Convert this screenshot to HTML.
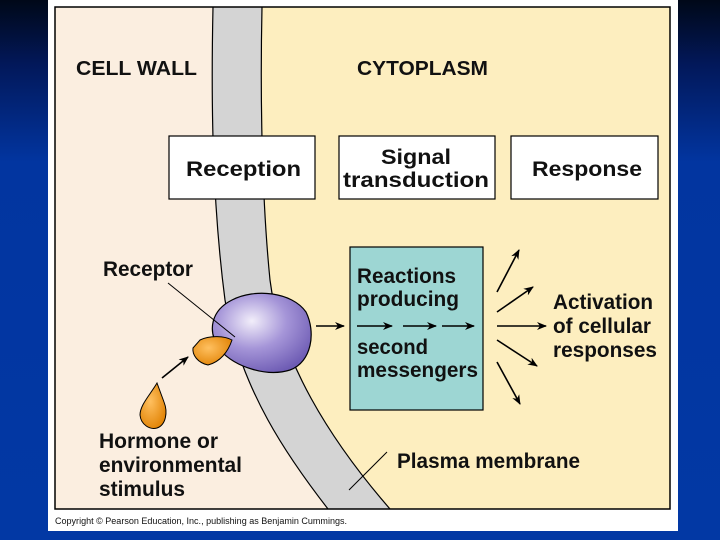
<!DOCTYPE html>
<html><head><style>
body{margin:0;width:720px;height:540px;overflow:hidden;background:linear-gradient(180deg,#000818 0%,#02185a 12%,#0235a0 30%,#0238a4 100%);}
svg{position:absolute;left:0;top:0}
text{font-family:"Liberation Sans",sans-serif;font-weight:bold;fill:#111}
</style></head><body>
<svg width="720" height="540" viewBox="0 0 720 540">
<defs>
<radialGradient id="pg" cx="0.4" cy="0.35" r="0.7">
<stop offset="0" stop-color="#f2eefa"/><stop offset="0.5" stop-color="#a595d8"/><stop offset="1" stop-color="#6e5cb4"/></radialGradient>
<radialGradient id="og" cx="0.4" cy="0.4" r="0.7">
<stop offset="0" stop-color="#ffc060"/><stop offset="1" stop-color="#e08000"/></radialGradient>
<marker id="ah" markerWidth="10" markerHeight="8" refX="9" refY="4" orient="auto" markerUnits="userSpaceOnUse"><path d="M0,0 L10,4 L0,8 L3,4 Z" fill="#000"/></marker>
</defs>
<rect x="48" y="0" width="630" height="531" fill="#fff"/>
<rect x="55" y="7" width="615" height="502" fill="#fdeebf"/>
<path d="M55,7 L213,7 C211,100 212,200 225,300 C240,390 290,460 328,509 L55,509 Z" fill="#fbeee0"/>
<path d="M213,7 C211,100 212,200 225,300 C240,390 290,460 328,509 L390,509 C330,440 280,360 270,280 C262,200 260,100 262,7 Z" fill="#d4d4d4"/>
<path d="M213,7 C211,100 212,200 225,300 C240,390 290,460 328,509" fill="none" stroke="#000" stroke-width="1.2"/>
<path d="M262,7 C260,100 262,200 270,280 C280,360 330,440 390,509" fill="none" stroke="#000" stroke-width="1.2"/>
<rect x="55" y="7" width="615" height="502" fill="none" stroke="#000" stroke-width="1.5"/>
<g font-size="20" lengthAdjust="spacingAndGlyphs">
<text x="76" y="75" textLength="121" lengthAdjust="spacingAndGlyphs">CELL WALL</text>
<text x="357" y="75" textLength="131" lengthAdjust="spacingAndGlyphs">CYTOPLASM</text>
</g>
<rect x="169" y="136" width="146" height="63" fill="#fff" stroke="#000" stroke-width="1.2"/>
<text x="186" y="176" font-size="21" textLength="115" lengthAdjust="spacingAndGlyphs">Reception</text>
<rect x="339" y="136" width="156" height="63" fill="#fff" stroke="#000" stroke-width="1.2"/>
<text x="381" y="164" font-size="21" textLength="70" lengthAdjust="spacingAndGlyphs">Signal</text>
<text x="343" y="187" font-size="21" textLength="146" lengthAdjust="spacingAndGlyphs">transduction</text>
<rect x="511" y="136" width="147" height="63" fill="#fff" stroke="#000" stroke-width="1.2"/>
<text x="532" y="176" font-size="21" textLength="110" lengthAdjust="spacingAndGlyphs">Response</text>
<rect x="350" y="247" width="133" height="163" fill="#9dd6d3" stroke="#000" stroke-width="1.2"/>
<g font-size="21">
<text x="357" y="283" textLength="99" lengthAdjust="spacingAndGlyphs">Reactions</text>
<text x="357" y="306" textLength="102" lengthAdjust="spacingAndGlyphs">producing</text>
<text x="357" y="354" textLength="71" lengthAdjust="spacingAndGlyphs">second</text>
<text x="357" y="377" textLength="121" lengthAdjust="spacingAndGlyphs">messengers</text>
<text x="553" y="309" textLength="100" lengthAdjust="spacingAndGlyphs">Activation</text>
<text x="553" y="333" textLength="98" lengthAdjust="spacingAndGlyphs">of cellular</text>
<text x="553" y="357" textLength="104" lengthAdjust="spacingAndGlyphs">responses</text>
<text x="103" y="276" textLength="90" lengthAdjust="spacingAndGlyphs">Receptor</text>
<text x="99" y="448" textLength="119" lengthAdjust="spacingAndGlyphs">Hormone or</text>
<text x="99" y="472" textLength="143" lengthAdjust="spacingAndGlyphs">environmental</text>
<text x="99" y="496" textLength="86" lengthAdjust="spacingAndGlyphs">stimulus</text>
<text x="397" y="468" textLength="183" lengthAdjust="spacingAndGlyphs">Plasma membrane</text>
</g>
<text x="55" y="524" font-size="9" style="font-weight:normal" textLength="292" lengthAdjust="spacingAndGlyphs">Copyright © Pearson Education, Inc., publishing as Benjamin Cummings.</text>
<path d="M232,300 C255,288 292,292 306,312 C316,332 312,362 290,370 C268,377 236,368 220,350 C206,330 212,310 232,300 Z" fill="url(#pg)" stroke="#000" stroke-width="1.2"/>
<path d="M200,340 C210,335 225,336 232,340 C228,352 220,362 208,365 C198,363 192,355 193,348 Z" fill="url(#og)" stroke="#000" stroke-width="1"/>
<path d="M157,383 C150,395 140,405 140,415 C141,425 150,430 157,428 C166,425 168,412 164,402 Z" fill="url(#og)" stroke="#000" stroke-width="1"/>
<line x1="168" y1="283" x2="235" y2="337" stroke="#000" stroke-width="1"/>
<line x1="387" y1="452" x2="349" y2="490" stroke="#000" stroke-width="1"/>
<g stroke="#000" stroke-width="1.6" marker-end="url(#ah)">
<line x1="162" y1="378" x2="188" y2="357"/>
<line x1="316" y1="326" x2="344" y2="326"/>
<line x1="357" y1="326" x2="392" y2="326"/>
<line x1="403" y1="326" x2="436" y2="326"/>
<line x1="442" y1="326" x2="474" y2="326"/>
<line x1="497" y1="326" x2="546" y2="326"/>
<line x1="497" y1="292" x2="519" y2="250"/>
<line x1="497" y1="312" x2="533" y2="287"/>
<line x1="497" y1="340" x2="537" y2="366"/>
<line x1="497" y1="362" x2="520" y2="404"/>
</g>
</svg>
</body></html>
